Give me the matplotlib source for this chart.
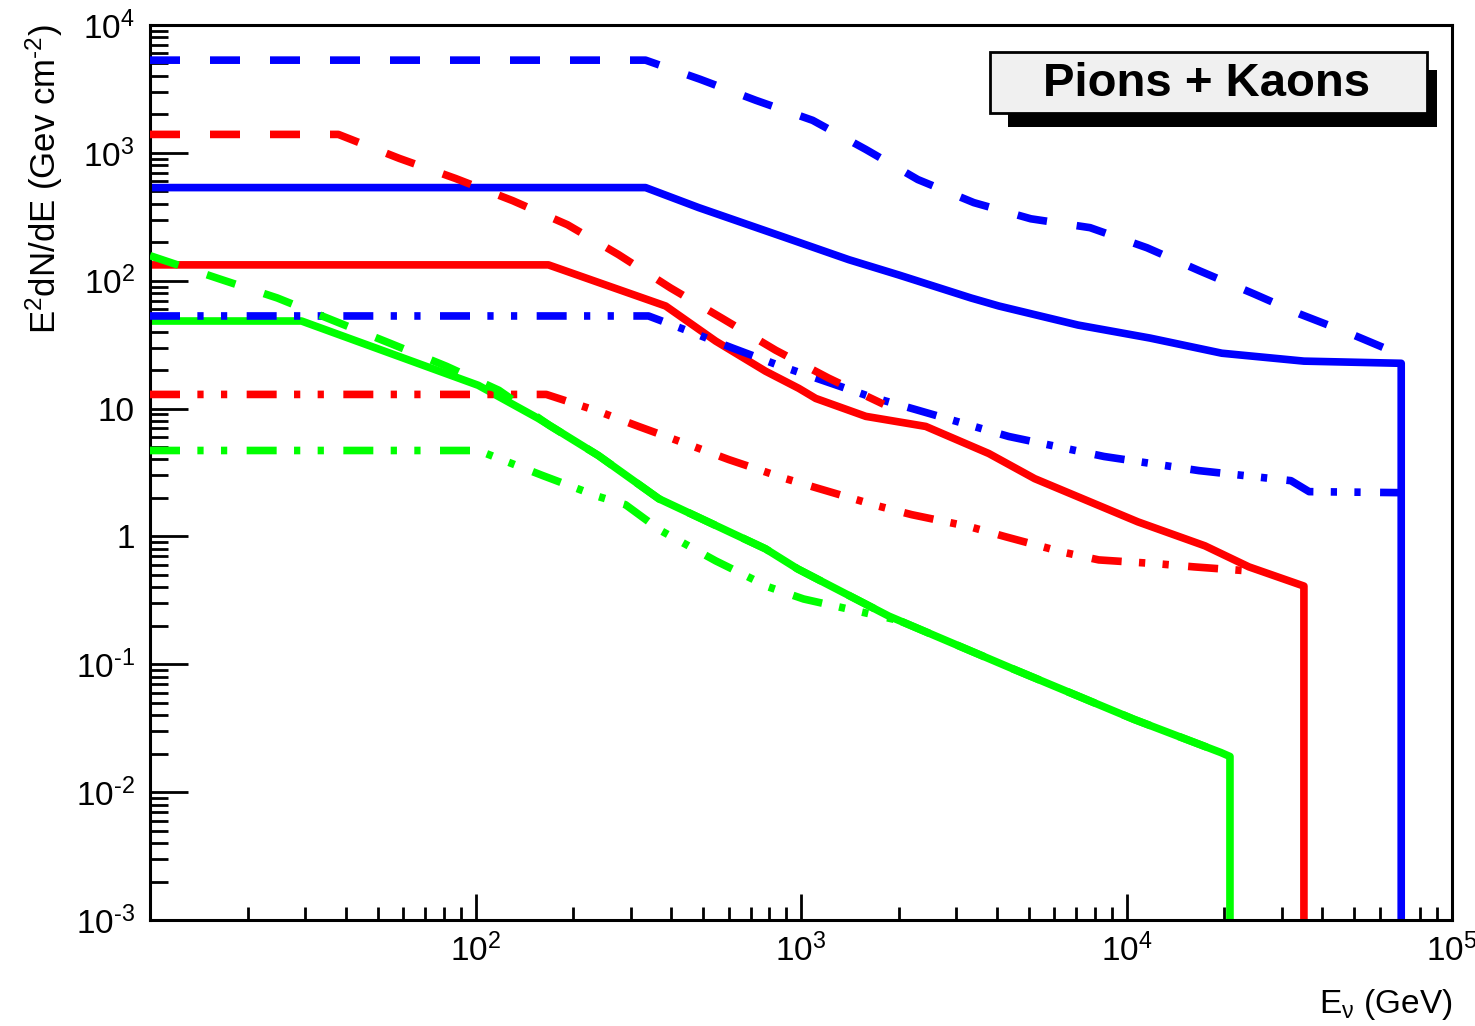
import numpy as np
import matplotlib
matplotlib.use('Agg')
import matplotlib.pyplot as plt
from matplotlib.patches import Rectangle
from matplotlib.ticker import LogLocator, FixedLocator, FuncFormatter, NullFormatter

plt.rcParams['font.family'] = ['Liberation Sans', 'DejaVu Sans']
plt.rcParams['mathtext.fontset'] = 'custom'
plt.rcParams['mathtext.rm'] = 'Liberation Sans'
plt.rcParams['mathtext.default'] = 'regular'
plt.rcParams['lines.scale_dashes'] = False

# energies (GeV) and E^2 dN/dE values
blue_solid_E = [10, 333, 485, 897, 1403, 1995, 3327, 4055, 7096, 11810, 19630, 35080, 69820, 69820]
blue_solid_F = [535, 535, 373, 217, 146, 111, 73.3, 63.4, 45.0, 35.6, 27.1, 23.5, 22.6, 1e-3]

blue_dash_E = [10, 333, 489, 726, 1086, 1582, 2286, 3396, 5082, 7727, 11560, 16830, 24660, 34120, 48300, 65460, 69820]
blue_dash_F = [5310, 5310, 3768, 2578, 1796, 1063, 618, 408, 305, 260, 181, 119, 78.8, 54.8, 38.9, 28.1, 26.6]

blue_dd_E = [10, 340, 451, 617, 853, 1183, 1614, 2239, 4347, 8531, 16710, 32000, 36400, 69000]
blue_dd_F = [53.0, 53.0, 40.4, 29.7, 21.8, 16.4, 12.5, 9.86, 6.05, 4.22, 3.27, 2.73, 2.24, 2.20]

red_solid_E = [10, 167.5, 384, 547, 778, 984, 1110, 1582, 2417, 3776, 5224, 10840, 17420, 23770, 35080, 35080]
red_solid_F = [133, 133, 63.4, 33.7, 19.6, 14.4, 12.0, 8.69, 7.25, 4.45, 2.83, 1.30, 0.844, 0.578, 0.409, 1e-3]

red_dash_E = [10, 37.9, 58.4, 86.9, 130, 191.7, 275, 397, 571, 836, 1216, 1795]
red_dash_F = [1394, 1394, 904, 630, 423, 274, 160, 87.9, 51.0, 28.6, 17.3, 10.8]

red_dd_E = [10, 165, 238.6, 317, 468, 600, 897, 1133, 1710, 2188, 3302, 4257, 6324, 8222, 12590, 16110, 23770]
red_dd_F = [12.9, 12.9, 9.51, 7.25, 5.05, 3.99, 2.83, 2.37, 1.74, 1.48, 1.19, 0.993, 0.757, 0.655, 0.610, 0.578, 0.537]

green_solid_E = [10, 29.2, 102, 156, 238.6, 366, 778, 977, 1862, 4508, 10540, 19500, 20790, 20790]
green_solid_F = [48.4, 48.4, 15.2, 8.37, 4.29, 1.97, 0.80, 0.557, 0.238, 0.0914, 0.0371, 0.0204, 0.0190, 1e-3]

green_dash_E = [10, 16.4, 24.6, 36.3, 54.5, 81.5, 118, 168.7, 238.6, 366, 778, 977, 1862, 4508, 10540, 19500]
green_dash_F = [157, 103, 73.3, 49.2, 32.5, 21.4, 13.9, 7.38, 4.29, 1.97, 0.80, 0.557, 0.238, 0.0914, 0.0371, 0.0204]

green_dd_E = [10, 102, 161, 238.6, 289, 371, 547, 796, 1019, 1538, 1928]
green_dd_F = [4.70, 4.70, 2.99, 2.05, 1.77, 1.11, 0.644, 0.402, 0.324, 0.256, 0.225]

W, H = 1475, 1026
fig = plt.figure(figsize=(W / 100, H / 100), dpi=100)
ax = fig.add_axes([150 / W, 1 - 920 / H, 1302 / W, 895 / H])

dash = (0, (21.6, 21.6))
dashdot = (0, (21.6, 12.5, 4.5, 12.5, 4.5, 14))
lw = 5.5

ax.plot(blue_solid_E, blue_solid_F, color='#0000ff', lw=lw, zorder=2)
ax.plot(red_solid_E, red_solid_F, color='#ff0000', lw=lw, zorder=2)
ax.plot(green_solid_E, green_solid_F, color='#00ff00', lw=lw, zorder=2)
ax.plot(blue_dd_E, blue_dd_F, color='#0000ff', lw=lw, ls=dashdot, zorder=3)
ax.plot(red_dd_E, red_dd_F, color='#ff0000', lw=lw, ls=dashdot, zorder=3)
ax.plot(green_dd_E, green_dd_F, color='#00ff00', lw=lw, ls=dashdot, zorder=3)
ax.plot(blue_dash_E, blue_dash_F, color='#0000ff', lw=lw, ls=dash, zorder=4)
ax.plot(red_dash_E, red_dash_F, color='#ff0000', lw=lw, ls=dash, zorder=4)
ax.plot(green_dash_E, green_dash_F, color='#00ff00', lw=lw, ls=dash, zorder=4)

ax.set_xscale('log')
ax.set_yscale('log')
ax.set_xlim(10, 1e5)
ax.set_ylim(1e-3, 1e4)


def power_label(e):
    # ROOT writes a short hyphen in the exponent
    if e < 0:
        return '$10^{\u2010%d}$' % (-e)
    return '$10^{%d}$' % e


def x_label(v, pos):
    e = int(round(np.log10(v)))
    if e == 1:
        return ''
    return power_label(e)


def y_label(v, pos):
    e = int(round(np.log10(v)))
    if e == 0:
        return '1'
    if e == 1:
        return '10'
    return power_label(e)


ax.xaxis.set_major_locator(FixedLocator([10, 1e2, 1e3, 1e4, 1e5]))
ax.yaxis.set_major_locator(FixedLocator([10.0 ** k for k in range(-3, 5)]))
ax.xaxis.set_minor_locator(LogLocator(base=10, subs=range(2, 10), numticks=20))
ax.yaxis.set_minor_locator(LogLocator(base=10, subs=range(2, 10), numticks=20))
ax.xaxis.set_major_formatter(FuncFormatter(x_label))
ax.yaxis.set_major_formatter(FuncFormatter(y_label))
ax.xaxis.set_minor_formatter(NullFormatter())
ax.yaxis.set_minor_formatter(NullFormatter())

ax.tick_params(axis='both', which='both', direction='in', width=2, top=False, right=False,
               labelsize=24, color='black')
ax.tick_params(axis='x', which='major', length=19, pad=10)
ax.tick_params(axis='x', which='minor', length=9.5)
ax.tick_params(axis='y', which='major', length=27, pad=11)
ax.tick_params(axis='y', which='minor', length=13)
for s in ax.spines.values():
    s.set_linewidth(2.2)

fig.text(44 / W, 1 - 24 / H, 'E$^{2}$dN/dE (Gev cm$^{\u20102}$)', rotation=90,
         ha='center', va='top', fontsize=25)
fig.text(1452 / W, 1 - 1005 / H, r'E$_{\nu}$ (GeV)', ha='right', va='center', fontsize=24)

# title box with shadow
fig.patches.append(Rectangle((1008 / W, 1 - 127 / H), 429 / W, 57 / H, transform=fig.transFigure,
                             facecolor='black', edgecolor='none', zorder=5))
fig.patches.append(Rectangle((990 / W, 1 - 113 / H), 437 / W, 61 / H, transform=fig.transFigure,
                             facecolor='#f0f0f0', edgecolor='black', lw=2, zorder=6))
fig.text(1207 / W, 1 - 84 / H, 'Pions + Kaons', fontsize=34, fontweight='bold',
         ha='center', va='center', zorder=7)

fig.savefig('out.png', dpi=100)
